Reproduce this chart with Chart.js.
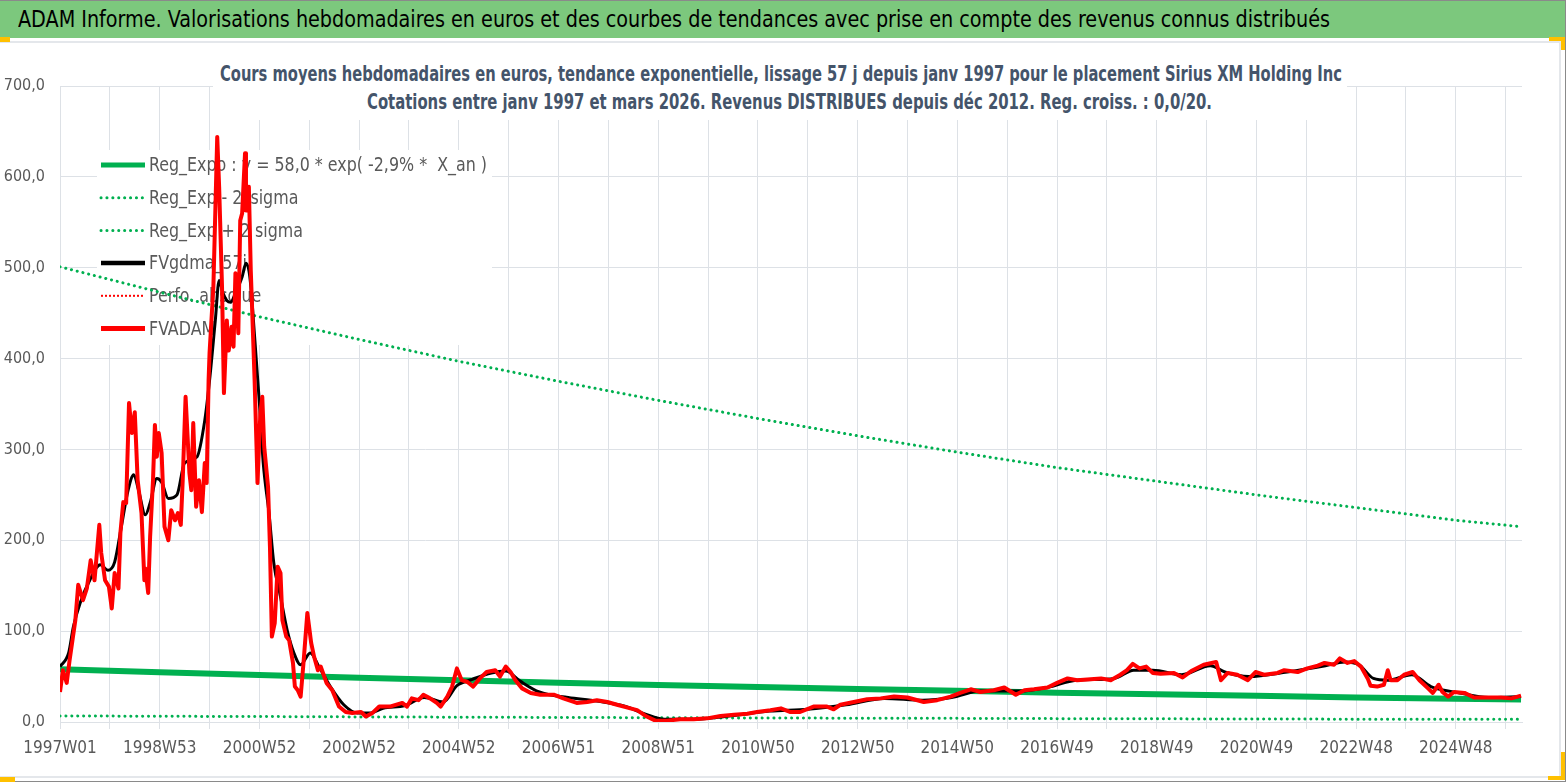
<!DOCTYPE html>
<html>
<head>
<meta charset="utf-8">
<script src="https://cdn.jsdelivr.net/npm/chart.js@4.4.1/dist/chart.umd.min.js"></script>
<style>
  html, body { margin: 0; padding: 0; background: #fff; }
  body { width: 1567px; height: 783px; position: relative; overflow: hidden;
         font-family: "Liberation Sans Narrow", "DejaVu Sans Condensed", sans-serif; }
  #banner { position: absolute; left: 0; top: 0; width: 1565px; height: 37px; background: #7CC87D;
            border-top: 1px solid #8a8a8a; }
  #frame { position: absolute; left: 0; top: 41px; width: 1559px; height: 733px;
           border-top: 2px solid #e4e7eb; border-right: 2px solid #e4e7eb; border-bottom: 2px solid #e4e7eb; }
  #outer { position: absolute; left: 0; top: 0; width: 1565px; height: 781px;
           border-right: 1px solid #8a8a8a; border-bottom: 1px solid #8a8a8a; }
  .hnd { position: absolute; background: #FFC000; }
  canvas { position: absolute; left: 0; top: 0; }
  #titlebox { position: absolute; left: 213px; top: 56px; width: 1134px; height: 64px; background: #fff; }
  .txt { position: absolute; white-space: nowrap; line-height: 1; transform-origin: 0 0; }
  .ttl { color: #44546A; font-weight: bold; font-size: 21px; }
</style>
</head>
<body>
<div id="outer"></div>
<div id="banner"></div>
<div id="frame"></div>
<div class="hnd" style="left:0;top:37px;width:10px;height:5px"></div>
<div class="hnd" style="left:1549px;top:37px;width:16px;height:4px"></div>
<div class="hnd" style="left:1561px;top:37px;width:4px;height:13px"></div>
<div class="hnd" style="left:0;top:777px;width:15px;height:5px"></div>
<div class="hnd" style="left:1561px;top:752px;width:4px;height:28px"></div>
<div class="hnd" style="left:1548px;top:776px;width:17px;height:4px"></div>
<span class="txt" data-w="1312" style="left:18px;top:8px;font-size:23px;color:#000">ADAM Informe. Valorisations hebdomadaires en euros et des courbes de tendances avec prise en compte des revenus connus distribués</span>
<canvas id="chart" width="1567" height="783"></canvas>
<div id="titlebox"></div>
<span class="txt ttl" data-w="1122" style="left:220px;top:64px">Cours moyens hebdomadaires en euros, tendance exponentielle, lissage 57 j depuis janv 1997 pour le placement Sirius XM Holding Inc</span>
<span class="txt ttl" data-w="845" style="left:367px;top:92px">Cotations entre janv 1997 et mars 2026. Revenus DISTRIBUES depuis déc 2012. Reg. croiss. : 0,0/20.</span>

<script>
// weeks counted from 1997W01
const xTickLabels = ["1997W01", "1998W53", "2000W52", "2002W52", "2004W52", "2006W51", "2008W51",
  "2010W50", "2012W50", "2014W50", "2016W49", "2018W49", "2020W49", "2022W48", "2024W48"];
const yTickLabels = ["0,0", "100,0", "200,0", "300,0", "400,0", "500,0", "600,0", "700,0"];

// FVADAM (weekly valuation)
const priceWeeks = [0, 3, 7, 10, 16, 19, 24, 28, 32, 36, 41, 43, 47, 51, 54, 57, 61, 63, 66, 69,
  72, 75, 78, 81, 85, 88, 89, 92, 94, 97, 99, 101, 103, 106, 109, 113, 116, 120, 123, 126,
  128, 131, 135, 137, 139, 142, 145, 148, 151, 153, 155, 156, 160, 164, 166, 169, 171, 174, 176, 179,
  181, 183, 186, 188, 190, 193, 194, 197, 199, 203, 205, 206, 209, 211, 213, 217, 219, 221, 224, 227,
  230, 232, 236, 239, 243, 245, 248, 251, 254, 258, 262, 265, 269, 272, 278, 284, 291, 298, 305, 314,
  319, 326, 333, 344, 357, 362, 367, 374, 379, 386, 393, 397, 404, 409, 414, 419, 425, 431, 438, 445,
  454, 459, 465, 470, 475, 482, 491, 501, 515, 525, 539, 550, 560, 571, 581, 595, 602, 612, 621, 633,
  647, 661, 675, 689, 703, 717, 727, 741, 752, 762, 772, 786, 800, 807, 814, 828, 842, 856, 870, 884,
  901, 915, 929, 939, 950, 960, 974, 985, 997, 1006, 1016, 1030, 1040, 1051, 1061, 1075, 1086, 1096, 1106, 1113,
  1119, 1126, 1133, 1140, 1148, 1162, 1171, 1180, 1193, 1206, 1211, 1218, 1228, 1239, 1247, 1256, 1270, 1277, 1291, 1301,
  1312, 1319, 1329, 1335, 1343, 1350, 1357, 1364, 1367, 1374, 1381, 1385, 1388, 1395, 1402, 1411, 1418, 1427, 1432, 1438,
  1442, 1448, 1454, 1465, 1475, 1489, 1503, 1514, 1524];
const priceValues = [33, 57, 43, 68, 112, 151, 134, 147, 178, 156, 217, 186, 156, 149, 125, 164, 147, 208, 242, 241,
  351, 318, 341, 266, 230, 156, 169, 142, 204, 266, 327, 292, 318, 296, 215, 200, 233, 222, 230, 217,
  266, 358, 274, 255, 329, 237, 266, 231, 285, 263, 376, 406, 479, 644, 589, 479, 362, 442, 409, 435,
  413, 494, 428, 552, 560, 626, 563, 589, 497, 376, 303, 263, 340, 358, 303, 259, 193, 94, 109, 171,
  164, 112, 94, 90, 65, 39, 35, 28, 65, 120, 87, 72, 57, 61, 43, 35, 17, 11, 10, 11,
  6, 10, 17, 17, 21, 17, 26, 24, 30, 26, 21, 17, 28, 39, 59, 46, 44, 39, 48, 55,
  57, 50, 61, 55, 46, 37, 32, 30, 30, 26, 21, 22, 24, 22, 19, 15, 13, 6, 1.5, 1.5,
  3, 3, 4, 6.6, 8, 9, 11, 13, 15, 11, 11, 17, 17, 14, 19, 22, 25, 26, 28, 27,
  22, 24, 28, 32, 36, 33, 35, 38, 30, 35, 36, 38, 43, 48, 46, 47, 48, 46, 52, 57,
  64, 59, 61, 54, 53, 54, 49, 56, 63, 66, 46, 54, 52, 46, 55, 52, 54, 57, 55, 59,
  62, 65, 63, 70, 65, 67, 61, 48, 40, 39, 41, 57, 46, 46, 52, 55, 46, 37, 32, 41,
  33, 28, 33, 32, 27, 27, 27, 26, 29];

// FVgdma_57j (smoothed valuation)
const smoothWeeks = [0, 9, 14, 21, 31, 42, 50, 57, 64, 71, 77, 82, 89, 94, 101, 106, 113, 122, 130, 143,
  151, 156, 162, 166, 170, 174, 178, 183, 190, 194, 198, 203, 208, 212, 218, 223, 230, 237, 244, 251,
  261, 270, 282, 296, 310, 324, 337, 360, 380, 400, 414, 430, 450, 465, 480, 500, 530, 560, 590, 610,
  630, 660, 700, 740, 780, 820, 860, 900, 930, 960, 1000, 1030, 1060, 1100, 1120, 1140, 1170, 1200, 1215, 1240,
  1280, 1320, 1340, 1355, 1370, 1385, 1410, 1430, 1460, 1490, 1524];
const smoothValues = [61, 76, 105, 131, 156, 173, 167, 176, 215, 255, 272, 255, 228, 241, 268, 264, 246, 250, 285, 292,
  332, 376, 442, 486, 472, 464, 462, 472, 490, 505, 490, 424, 351, 285, 230, 175, 138, 101, 76, 63,
  76, 61, 39, 19, 10, 10, 15, 18, 27, 22, 40, 47, 54, 56, 45, 33, 27, 23, 17, 9,
  3, 3, 7, 12, 14, 19, 26, 24, 27, 34, 34, 38, 46, 48, 57, 57, 52, 62, 55, 50,
  55, 62, 66, 63, 48, 46, 52, 39, 32, 27, 28];

// exponential trend and its +/- 2 sigma band
const trendWeeks = [0, 104, 208, 312, 416, 520, 624, 728, 832, 936, 1040, 1144, 1248, 1352, 1456, 1524];
const regExpo = [58, 54.7, 51.6, 48.7, 45.9, 43.3, 40.8, 38.5, 36.3, 34.3, 32.3, 30.5, 28.8, 27.1, 25.6, 24.8];
const regLow = [6.7, 6.3, 6.0, 5.6, 5.3, 5.0, 4.7, 4.4, 4.2, 4.0, 3.7, 3.5, 3.3, 3.1, 3.0, 2.9];
const regHigh = [501, 473, 446, 421, 397, 375, 354, 334, 315, 297, 280, 265, 250, 236, 222, 215];

const xGridWeeks = [0, 52, 104, 156, 208, 260, 312, 364, 416, 468, 520, 572, 624, 676, 728, 780,
  832, 884, 936, 988, 1040, 1092, 1144, 1196, 1248, 1300, 1352, 1404, 1456, 1508];

const FONT = '"Liberation Sans Narrow", "DejaVu Sans Condensed", sans-serif';
const pts = (ws, vs) => ws.map((w, i) => ({ x: w, y: vs[i] }));

// fit the html texts to their measured widths
document.querySelectorAll(".txt").forEach((el) => {
  const w = el.getBoundingClientRect().width;
  el.style.transform = "scaleX(" + (+el.dataset.w / w) + ")";
});

// legend drawn inside the plot, under the curves
const insideLegend = {
  id: "insideLegend",
  beforeDatasetsDraw(chart) {
    const c = chart.ctx;
    c.save();
    c.fillStyle = "#fff";
    c.fillRect(97, 150, 395, 195);
    c.font = "20px " + FONT;
    c.textBaseline = "middle";
    const sx = 338 / c.measureText(chart.data.datasets[0].label).width;
    chart.data.datasets.forEach((ds, i) => {
      const y = 165 + i * 32.7;
      c.save();
      c.strokeStyle = ds.borderColor;
      c.lineWidth = ds.legendWidth;
      c.lineCap = ds.borderCapStyle || "butt";
      c.setLineDash(ds.borderDash || []);
      c.beginPath();
      c.moveTo(101, y);
      c.lineTo(145, y);
      c.stroke();
      c.restore();
      c.save();
      c.translate(149, y + 1);
      c.scale(sx, 1);
      c.fillStyle = "#595959";
      c.fillText(ds.label, 0, 0);
      c.restore();
    });
    c.restore();
  },
};

new Chart(document.getElementById("chart"), {
  type: "line",
  data: {
    datasets: [
      { label: "Reg_Expo : y = 58,0 * exp( -2,9% *  X_an )", data: pts(trendWeeks, regExpo),
        borderColor: "#00B050", borderWidth: 6, legendWidth: 5, order: 5 },
      { label: "Reg_Exp - 2*sigma", data: pts(trendWeeks, regLow),
        borderColor: "#00B050", borderWidth: 3, legendWidth: 3, borderDash: [0.1, 5.8], borderCapStyle: "round", order: 4 },
      { label: "Reg_Exp + 2 sigma", data: pts(trendWeeks, regHigh),
        borderColor: "#00B050", borderWidth: 3, legendWidth: 3, borderDash: [0.1, 5.8], borderCapStyle: "round", order: 3 },
      { label: "FVgdma_57j", data: pts(smoothWeeks, smoothValues),
        borderColor: "#000000", borderWidth: 3, legendWidth: 4.5, tension: 0.4, cubicInterpolationMode: "monotone", order: 1 },
      { label: "Perfo. absolue", data: [],
        borderColor: "#FF0000", borderWidth: 2, legendWidth: 2, borderDash: [2, 2], order: 2 },
      { label: "FVADAM", data: pts(priceWeeks, priceValues),
        borderColor: "#FF0000", borderWidth: 4, legendWidth: 5, tension: 0, order: 0 },
    ],
  },
  options: {
    responsive: false,
    devicePixelRatio: 1,
    animation: false,
    events: [],
    layout: { padding: { top: 86, right: 45, left: 0, bottom: 0 } },
    elements: { point: { radius: 0 }, line: { borderJoinStyle: "round" } },
    plugins: { legend: { display: false }, tooltip: { enabled: false } },
    scales: {
      x: {
        type: "linear", min: 0, max: 1525,
        afterBuildTicks: (s) => { s.ticks = xGridWeeks.map((v) => ({ value: v })); },
        afterFit: (s) => { s.height = 61; },
        grid: { color: "#DDE1E6", tickLength: 7 },
        border: { color: "#DDE1E6" },
        ticks: { autoSkip: false, maxRotation: 0, padding: 9, color: "#595959",
                 font: { family: FONT, size: 17 },
                 callback: (v, i) => (i % 2 === 0 ? xTickLabels[i / 2] : "") },
      },
      y: {
        min: 0, max: 700,
        afterFit: (s) => { s.width = 60; },
        grid: { color: "#DDE1E6", drawTicks: false },
        border: { display: false },
        ticks: { stepSize: 100, padding: 15, color: "#595959",
                 font: { family: FONT, size: 16 },
                 callback: (v) => yTickLabels[v / 100] },
      },
    },
  },
  plugins: [insideLegend],
});
</script>
</body>
</html>
